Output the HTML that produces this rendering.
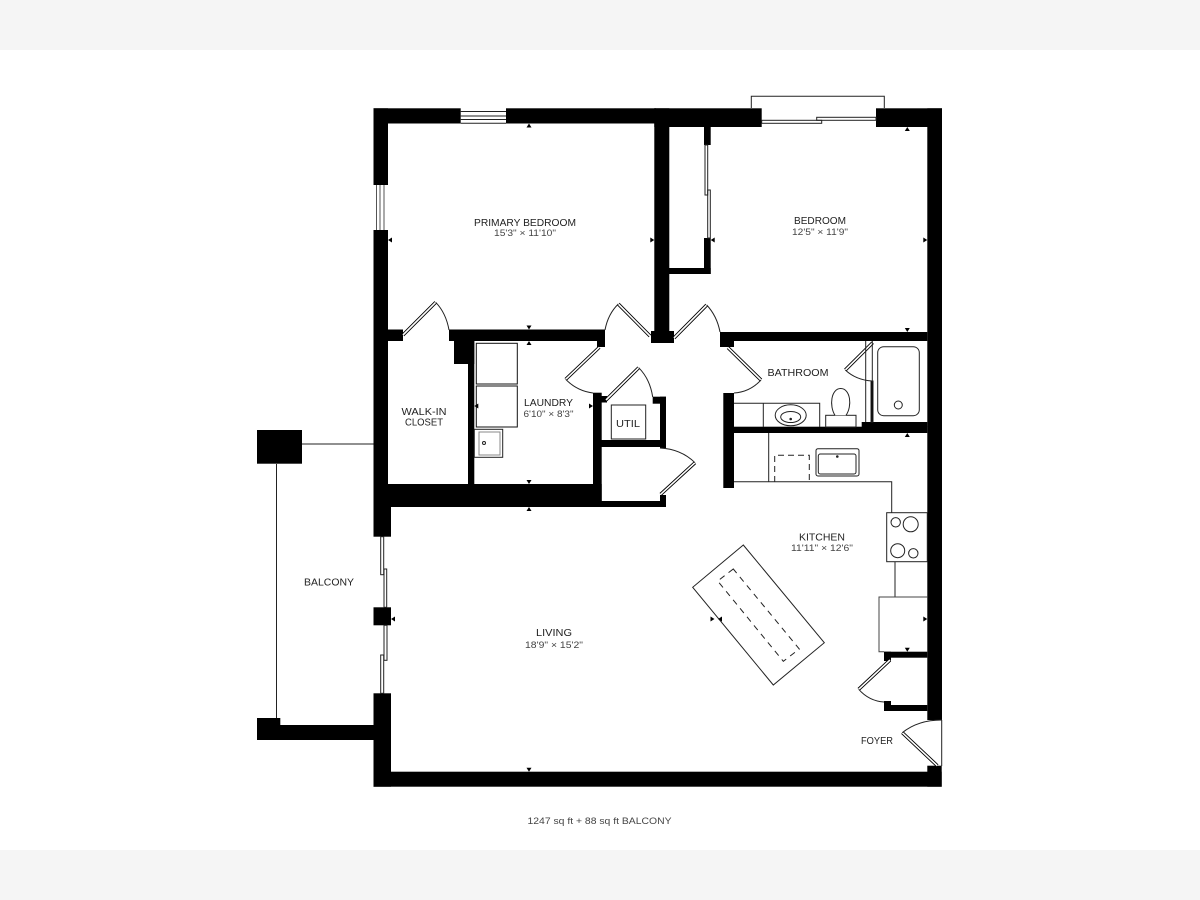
<!DOCTYPE html>
<html><head><meta charset="utf-8"><style>
html,body{margin:0;padding:0;background:#fff}
svg{display:block}
text{font-family:"Liberation Sans",sans-serif;fill:#222;text-anchor:middle}
.n{font-size:10.5px}
.d{font-size:9px;fill:#444}
</style></head><body>
<svg width="1200" height="900" viewBox="0 0 1200 900" xmlns="http://www.w3.org/2000/svg">
<rect width="1200" height="900" fill="#fff"/>
<rect width="1200" height="50" fill="#f5f5f5"/>
<rect y="850" width="1200" height="50" fill="#f5f5f5"/>
<g fill="#000">
<rect x="373.5" y="108.3" width="87.2" height="15.2"/>
<rect x="506" y="108.3" width="150" height="15.2"/>
<rect x="654.3" y="108.3" width="107.4" height="18.7"/>
<rect x="876" y="108.3" width="66" height="18.7"/>
<rect x="373.5" y="108.3" width="14.5" height="76.7"/>
<rect x="373.5" y="230" width="14.5" height="277"/>
<rect x="373.5" y="507" width="17.5" height="29.7"/>
<rect x="373.5" y="607.3" width="17.5" height="18"/>
<rect x="373.5" y="693.3" width="17.5" height="93.4"/>
<rect x="373.5" y="771.7" width="568.2" height="15"/>
<rect x="927.3" y="108.3" width="14.7" height="611.7"/>
<rect x="927.3" y="765.7" width="14.4" height="21"/>
<rect x="654.3" y="108.3" width="15" height="234.7"/>
<rect x="651" y="331" width="23" height="12"/>
<rect x="704" y="127" width="6.7" height="18"/>
<rect x="704" y="238" width="6.7" height="36"/>
<rect x="669" y="268" width="41.7" height="6"/>
<rect x="388" y="329.5" width="15" height="11.5"/>
<rect x="449" y="329.5" width="156" height="11.5"/>
<rect x="454" y="341" width="20.3" height="23"/>
<rect x="468" y="341" width="6.3" height="143"/>
<rect x="597" y="341" width="8" height="6"/>
<rect x="388" y="484" width="213.7" height="23"/>
<rect x="593" y="392.7" width="8.7" height="114.3"/>
<rect x="593" y="396" width="14" height="6.5"/>
<rect x="652.7" y="396.7" width="13.3" height="7"/>
<rect x="660" y="396.7" width="6" height="51.3"/>
<rect x="601" y="440" width="65" height="7"/>
<rect x="601" y="501" width="65" height="6"/>
<rect x="660" y="495" width="6" height="12"/>
<rect x="720" y="332" width="207.3" height="9"/>
<rect x="720" y="341" width="14" height="6"/>
<rect x="723.3" y="393" width="10.7" height="95"/>
<rect x="734" y="426.7" width="193.3" height="6.3"/>
<rect x="861.7" y="422" width="65.6" height="5"/>
<rect x="884" y="651.7" width="43.3" height="6"/>
<rect x="884" y="651.7" width="7" height="9.3"/>
<rect x="884" y="705" width="43.3" height="6"/>
<rect x="884" y="701" width="7" height="10"/>
<rect x="257" y="430" width="45" height="33.7"/>
<rect x="257" y="718" width="23.3" height="22"/>
<rect x="257" y="725" width="116.5" height="15"/>
</g>
<g fill="none" stroke="#222" stroke-width="1">
<path d="M302 444H373.5"/>
<path d="M276.500 464V718"/>
<path d="M751.3 108V96.3H884.3V108"/>
<path d="M941.7 720V766"/>
<path d="M460.7 111.5H506M460.7 116H506M460.7 119.5H506M460.7 123.3H506"/>
<path d="M376.5 185V230M380 185V230M384 185V230" stroke="#555"/>
<rect x="761.7" y="120.3" width="60" height="3"/>
<rect x="816.7" y="117.3" width="59.3" height="3"/>
<rect x="705" y="145" width="2.7" height="50"/>
<rect x="707.7" y="190" width="2.6" height="48"/>
<rect x="380.7" y="536.7" width="3" height="38"/>
<rect x="384" y="569" width="2.7" height="38.3"/>
<rect x="384" y="625.3" width="3" height="35"/>
<rect x="380.7" y="655" width="3" height="38.3"/>
</g>
<g fill="none">
<g stroke="#000" stroke-width="3.4">
<path d="M403 335L435.7 302.3M650 336L618.3 304M674 338L706.7 305M599.3 347.3L565.7 379.3M606 400L638.7 367.7M660.7 494.3L695 462.7M728 347.7L761 380M872.7 342.7L845.3 370M890 660L858.7 689.3M937.3 765.7L902.3 732.7"/>
</g>
<g stroke="#fff" stroke-width="1.6">
<path d="M403 335L435.7 302.3M650 336L618.3 304M674 338L706.7 305M599.3 347.3L565.7 379.3M606 400L638.7 367.7M660.7 494.3L695 462.7M728 347.7L761 380M872.7 342.7L845.3 370M890 660L858.7 689.3M937.3 765.7L902.3 732.7"/>
</g>
<g stroke="#222" stroke-width="1">
<path d="M435.7 302.3Q446 313 449 330M618.3 304Q608 314 605 330M706.7 305Q717 316 720 332M565.7 379.3Q577 391 593 393M638.7 367.7Q650 379 652.7 397M695 462.7Q681 449 660 448M761 380Q750 392 734 393M845.3 370Q856 380 872 381M858.7 689.3Q869 701 884 702M902.3 732.700Q918 720 941.7 720"/>
</g>
</g>
<g fill="none" stroke="#222" stroke-width="1">
<rect x="476.3" y="343.3" width="41" height="40.7" stroke="#111"/>
<rect x="476.3" y="386" width="41" height="41" stroke="#111"/>
<rect x="474.3" y="429.3" width="28.4" height="28"/>
<rect x="479" y="432" width="21" height="23" stroke="#888"/>
<circle cx="484" cy="443" r="1.5"/>
<rect x="611.3" y="405" width="34.4" height="34"/>
<path d="M865.7 341V422M872.3 341V381"/>
<rect x="871" y="381" width="2" height="41" fill="#000"/>
<rect x="877.7" y="346.7" width="41.6" height="69" rx="6"/>
<circle cx="898.3" cy="405" r="4"/>
<path d="M734 403.3H819.7V427M763.3 403.3V427"/>
<ellipse cx="790.7" cy="415.3" rx="15.5" ry="10.5"/>
<ellipse cx="790.7" cy="417" rx="10" ry="5.5"/>
<circle cx="790.7" cy="419" r="0.8" fill="#222"/>
<rect x="825.7" y="415.3" width="30.3" height="11.7"/>
<path d="M835 415.3C829 406 831 388.5 840.7 388.5C850.5 388.5 852.5 406 846 415.3" fill="#fff"/>
<path d="M768.7 433V482M734 481.7H891.7V513"/>
<path d="M774.7 482V455.3H809.3V482" stroke-dasharray="6 4"/>
<rect x="816" y="448.7" width="43" height="27.3" rx="2"/>
<rect x="818.3" y="454" width="37.7" height="20" rx="2"/>
<circle cx="837.3" cy="456.5" r="0.8" fill="#222"/>
<rect x="886.7" y="512.7" width="40.6" height="49"/>
<circle cx="895.7" cy="522.3" r="4.7"/>
<circle cx="910.7" cy="524.3" r="7.5"/>
<circle cx="897.7" cy="550.7" r="7"/>
<circle cx="913.3" cy="553.3" r="4.7"/>
<path d="M895 561.7V597"/>
<path d="M927.3 597H879V651.7H884" stroke="#444"/>
<polygon points="743.3,545 692.7,587.3 773.3,685 824.3,642.7"/>
<polygon points="733.3,569 717.7,581 783.3,661.3 799.3,649" stroke-dasharray="6 5"/>
</g>
<path fill="#000" d="M529 123.5l-2.500 4h5zM529 329.5l-2.500-4h5zM529 341l-2.500 4h5zM529 484l-2.500-4h5zM529 507l-2.500 4h5zM529 771.7l-2.500-4h5zM388 240l4-2.500v5zM654.3 240l-4-2.500v5zM907.3 127l-2.500 4h5zM907.3 332l-2.500-4h5zM710.7 240l4-2.500v5zM927.3 240l-4-2.500v5zM474.3 406l4-2.500v5zM593 406l-4-2.500v5zM907.3 433l-2.500 4h5zM907.3 651.7l-2.500-4h5zM927.3 619l-4-2.500v5zM391 619l4-2.500v5zM714.500 619l-4-2.500v5zM718 619l4-2.500v5z"/>
<g lengthAdjust="spacingAndGlyphs">
<text class="n" x="525" y="226" textLength="102" lengthAdjust="spacingAndGlyphs">PRIMARY BEDROOM</text>
<text class="d" x="525" y="236" textLength="62" lengthAdjust="spacingAndGlyphs">15'3" × 11'10"</text>
<text class="n" x="820" y="224" textLength="52" lengthAdjust="spacingAndGlyphs">BEDROOM</text>
<text class="d" x="820" y="235" textLength="56" lengthAdjust="spacingAndGlyphs">12'5" × 11'9"</text>
<text class="n" x="548.5" y="406" textLength="49" lengthAdjust="spacingAndGlyphs">LAUNDRY</text>
<text class="d" x="548.5" y="417" textLength="50" lengthAdjust="spacingAndGlyphs">6'10" × 8'3"</text>
<text class="n" x="424" y="415" textLength="45" lengthAdjust="spacingAndGlyphs">WALK-IN</text>
<text class="n" x="424" y="425.5" textLength="38" lengthAdjust="spacingAndGlyphs">CLOSET</text>
<text class="n" x="628" y="427" textLength="24" lengthAdjust="spacingAndGlyphs">UTIL</text>
<text class="n" x="798" y="376" textLength="61" lengthAdjust="spacingAndGlyphs">BATHROOM</text>
<text class="n" x="822" y="540.5" textLength="46" lengthAdjust="spacingAndGlyphs">KITCHEN</text>
<text class="d" x="822" y="551" textLength="62" lengthAdjust="spacingAndGlyphs">11'11" × 12'6"</text>
<text class="n" x="554" y="636" textLength="36" lengthAdjust="spacingAndGlyphs">LIVING</text>
<text class="d" x="554" y="648" textLength="58" lengthAdjust="spacingAndGlyphs">18'9" × 15'2"</text>
<text class="n" x="329" y="585.5" textLength="50" lengthAdjust="spacingAndGlyphs">BALCONY</text>
<text class="n" x="877" y="744" textLength="32" lengthAdjust="spacingAndGlyphs">FOYER</text>
<text class="d" x="599.5" y="824" textLength="144" lengthAdjust="spacingAndGlyphs">1247 sq ft + 88 sq ft BALCONY</text>
</g>
</svg>
</body></html>
